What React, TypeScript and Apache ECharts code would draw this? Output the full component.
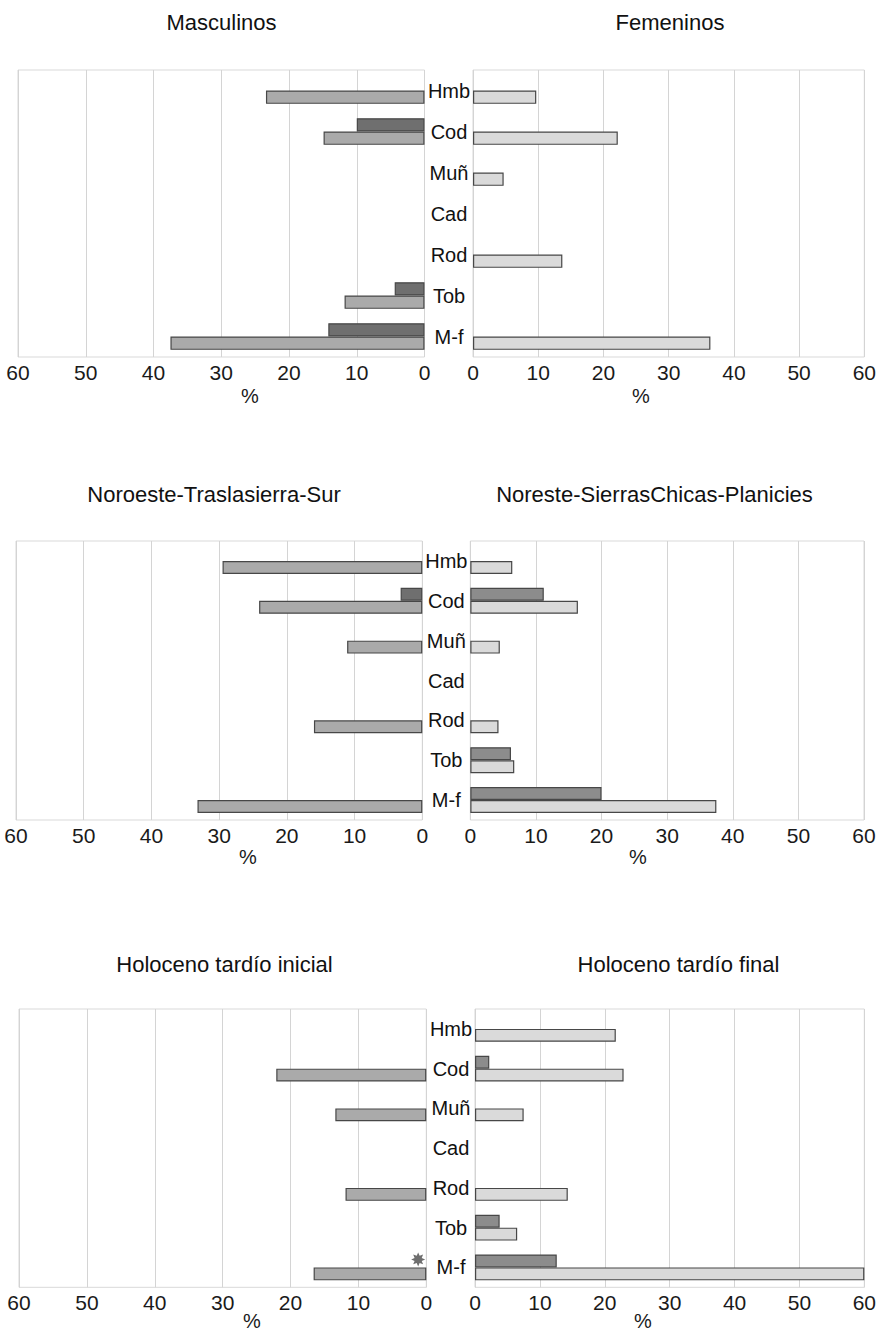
import React, { useEffect, useRef } from "react";
import * as echarts from "echarts";

const categories = ["Hmb", "Cod", "Muñ", "Cad", "Rod", "Tob", "M-f"];
const xTicks = [0, 10, 20, 30, 40, 50, 60];

const masculinosDark = [0, 10, 0, 0, 0, 4.4, 14.2];
const masculinosLight = [23.4, 14.9, 0, 0, 0, 11.8, 37.5];
const femeninosDark = [0, 0, 0, 0, 0, 0, 0];
const femeninosLight = [9.7, 22.2, 4.7, 0, 13.7, 0, 36.4];
const noroesteDark = [0, 3.2, 0, 0, 0, 0, 0];
const noroesteLight = [29.5, 24.1, 11.1, 0, 16.0, 0, 33.2];
const noresteDark = [0, 11.2, 0, 0, 0, 6.2, 20.0];
const noresteLight = [6.4, 16.4, 4.5, 0, 4.3, 6.7, 37.5];
const inicialDark = [0, 0, 0, 0, 0, 0, 0];
const inicialLight = [0, 22.1, 13.4, 0, 11.9, 0, 16.6];
const finalDark = [0, 2.2, 0, 0, 0, 3.8, 12.6];
const finalLight = [21.7, 22.9, 7.5, 0, 14.3, 6.5, 60];
const starMarks: [number, string][] = [[1.2, "M-f"]];

const titles = [
  "Masculinos",
  "Femeninos",
  "Noroeste-Traslasierra-Sur",
  "Noreste-SierrasChicas-Planicies",
  "Holoceno tardío inicial",
  "Holoceno tardío final",
];

const FONT = "'Liberation Sans', Arial, Helvetica, sans-serif";
const STAR =
  "path://M0,-10L2.1,-5.1L7.07,-7.07L5.1,-2.1L10,0L5.1,2.1L7.07,7.07L2.1,5.1L0,10L-2.1,5.1L-7.07,7.07L-5.1,2.1L-10,0L-5.1,-2.1L-7.07,-7.07L-2.1,-5.1Z";

const rows = [
  { top: 70, height: 287, lx: 18, lw: 406.5, rx: 473, rw: 394, ty: 22, py: 396 },
  { top: 541, height: 279, lx: 16, lw: 406.3, rx: 470.3, rw: 393.7, ty: 494, py: 857 },
  { top: 1009, height: 278.3, lx: 19, lw: 407.3, rx: 475, rw: 394.7, ty: 964, py: 1321 },
];
const titleX = [221.5, 670, 214, 654.5, 224.5, 678.5];
const pctX = [250, 641, 248, 638, 252, 643];

const panels = [
  { dark: masculinosDark, light: masculinosLight, side: "left" },
  { dark: femeninosDark, light: femeninosLight, side: "right" },
  { dark: noroesteDark, light: noroesteLight, side: "left" },
  { dark: noresteDark, light: noresteLight, side: "right" },
  { dark: inicialDark, light: inicialLight, side: "left" },
  { dark: finalDark, light: finalLight, side: "right" },
];

const nz = (arr: number[]) => arr.map((v) => (v === 0 ? null : v));

export default function App() {
  const ref = useRef<HTMLDivElement>(null);
  useEffect(() => {
    document.body.style.overflow = "hidden";
    const chart = echarts.init(ref.current!, null, { renderer: "svg" });
    const grid: any[] = [];
    const xAxis: any[] = [];
    const yAxis: any[] = [];
    const series: any[] = [];
    const graphic: any[] = [];

    panels.forEach((p, i) => {
      const r = rows[Math.floor(i / 2)];
      const isLeft = p.side === "left";
      grid.push({
        left: isLeft ? r.lx : r.rx,
        top: r.top,
        width: isLeft ? r.lw : r.rw,
        height: r.height,
        show: true,
        borderColor: "#d9d9d9",
        borderWidth: 1,
        backgroundColor: "#ffffff",
      });
      xAxis.push({
        type: "value",
        gridIndex: i,
        min: 0,
        max: 60,
        interval: 10,
        inverse: isLeft,
        axisLine: { show: false },
        axisTick: { show: false },
        splitLine: { show: true, lineStyle: { color: "#d4d4d4", width: 1 } },
        axisLabel: {
          show: true,
          margin: 5,
          fontSize: 21,
          color: "#1a1a1a",
          fontFamily: FONT,
          formatter: (v: number) => (xTicks.includes(v) ? String(v) : ""),
        },
      });
      yAxis.push({
        type: "category",
        gridIndex: i,
        data: categories,
        inverse: true,
        position: isLeft ? "right" : "left",
        axisLine: { show: false },
        axisTick: { show: false },
        splitLine: { show: false },
        axisLabel: {
          show: !isLeft,
          align: "center",
          margin: 24,
          fontSize: 20,
          color: "#111111",
          fontFamily: FONT,
        },
      });
      series.push({
        type: "bar",
        xAxisIndex: i,
        yAxisIndex: i,
        data: nz(p.dark),
        barGap: "0%",
        barCategoryGap: "35%",
        itemStyle: {
          color: isLeft ? "#6f6f6f" : "#8c8c8c",
          borderColor: "#474747",
          borderWidth: 1.2,
        },
      });
      series.push({
        type: "bar",
        xAxisIndex: i,
        yAxisIndex: i,
        data: nz(p.light),
        barGap: "0%",
        barCategoryGap: "35%",
        itemStyle: {
          color: isLeft ? "#aaaaaa" : "#dadada",
          borderColor: "#474747",
          borderWidth: 1.2,
        },
      });
      graphic.push({
        type: "text",
        x: titleX[i],
        y: r.ty,
        style: {
          text: titles[i],
          fontSize: 22,
          fontFamily: FONT,
          fill: "#111111",
          textAlign: "center",
          textVerticalAlign: "middle",
        },
      });
      graphic.push({
        type: "text",
        x: pctX[i],
        y: r.py,
        style: {
          text: "%",
          fontSize: 20,
          fontFamily: FONT,
          fill: "#1a1a1a",
          textAlign: "center",
          textVerticalAlign: "middle",
        },
      });
    });

    series.push({
      type: "scatter",
      xAxisIndex: 4,
      yAxisIndex: 4,
      data: starMarks,
      symbol: STAR,
      symbolSize: 14,
      symbolOffset: [0, -8],
      itemStyle: { color: "#4a4a4a" },
      z: 5,
    });

    chart.setOption({
      animation: false,
      backgroundColor: "#ffffff",
      grid,
      xAxis,
      yAxis,
      series,
      graphic,
    });
    return () => chart.dispose();
  }, []);
  return (
    <div
      ref={ref}
      style={{ position: "absolute", left: 0, top: 0, width: 879, height: 1332 }}
    />
  );
}
